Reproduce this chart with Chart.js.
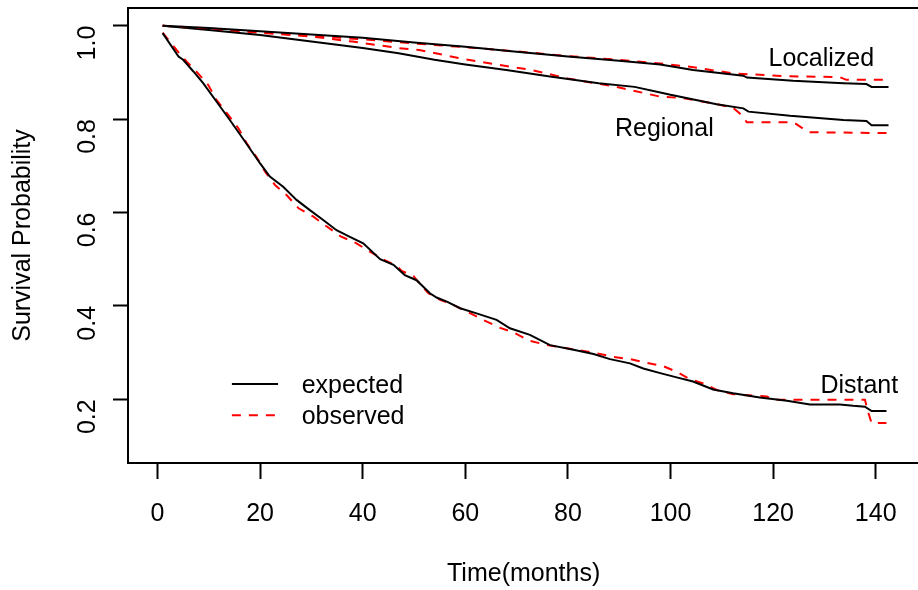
<!DOCTYPE html>
<html>
<head>
<meta charset="UTF-8">
<title>Survival by stage</title>
<script src="https://cdn.jsdelivr.net/npm/chart.js@4.4.0/dist/chart.umd.min.js"></script>
<style>
  body { margin: 0; overflow: hidden; background: #fff; }
</style>
</head>
<body>
<canvas id="myChart" width="930" height="590"></canvas>

<script>
// months / survival
var locExpT = [1, 10, 20, 30, 40, 50, 60, 70, 80, 90, 98, 104.4, 114.2, 114.9, 123.9, 133.7, 138.2, 139.2, 142.5];
var locExpV = [1.0, 0.995, 0.988, 0.981, 0.974, 0.964, 0.955, 0.944, 0.934, 0.925, 0.917, 0.905, 0.893, 0.889, 0.882, 0.877, 0.875, 0.869, 0.869];
var locObsT = [1, 10, 20, 30, 40, 50, 60, 70, 80, 90, 98, 103.8, 112.2, 122, 133, 134.3, 142.5];
var locObsV = [1.0, 0.994, 0.986, 0.978, 0.971, 0.962, 0.954, 0.945, 0.935, 0.927, 0.919, 0.912, 0.898, 0.892, 0.890, 0.884, 0.884];

var regExpT = [1, 10, 20, 25, 30, 40, 47, 54, 60, 68, 76.5, 86, 93, 98, 100, 109, 114.2, 115.2, 123.3, 133.7, 138.2, 139.2, 142.5];
var regExpV = [1.0, 0.991, 0.980, 0.973, 0.966, 0.952, 0.941, 0.927, 0.917, 0.905, 0.891, 0.877, 0.869, 0.857, 0.852, 0.832, 0.823, 0.816, 0.807, 0.798, 0.796, 0.787, 0.787];
var regObsT = [1, 10, 20, 30, 38, 47, 51, 60, 70, 73, 80, 89.5, 98, 102.5, 109, 112.2, 113.5, 114.9, 124, 126.9, 142.5];
var regObsV = [1.0, 0.993, 0.985, 0.977, 0.966, 0.952, 0.948, 0.928, 0.910, 0.905, 0.887, 0.869, 0.848, 0.845, 0.832, 0.824, 0.812, 0.793, 0.793, 0.772, 0.770];

var disExpT = [1, 4.1, 5, 7, 8.9, 12.2, 14.1, 16.1, 20, 21.9, 24.5, 27.1, 29.7, 32.3, 34.9, 37.5, 40.1, 43.4, 46, 48.2, 50.5, 53.1, 54.4, 56.4, 59, 62.2, 66.1, 68.7, 72.6, 76.5, 81.1, 85, 88.2, 92.1, 94.7, 98, 101.2, 104.4, 108.3, 112.2, 117.4, 122.7, 127.2, 133, 135.6, 137.9, 139.2, 142.1];
var disExpV = [0.984, 0.934, 0.927, 0.902, 0.877, 0.827, 0.798, 0.767, 0.705, 0.677, 0.655, 0.627, 0.605, 0.584, 0.562, 0.548, 0.534, 0.500, 0.488, 0.466, 0.455, 0.427, 0.418, 0.409, 0.395, 0.384, 0.370, 0.352, 0.338, 0.316, 0.306, 0.297, 0.286, 0.277, 0.266, 0.256, 0.247, 0.238, 0.221, 0.213, 0.204, 0.197, 0.189, 0.189, 0.186, 0.184, 0.175, 0.175];
var disObsT = [1, 3.7, 5.7, 7.9, 9.9, 11.5, 13.8, 15.8, 17.4, 19.3, 21, 22.9, 25.2, 27.5, 30.4, 33, 35.7, 38.8, 41.4, 44.3, 46.6, 47.6, 49.9, 50.8, 52.8, 55.1, 57.7, 60.3, 63.5, 66.8, 69.4, 72.6, 76.5, 81.7, 85, 88.8, 92.1, 95.4, 98.6, 101.2, 103.8, 106.4, 109, 112.2, 116.1, 118.8, 120, 123.9, 137.9, 138.6, 139.2, 142.1];
var disObsV = [0.985, 0.948, 0.923, 0.898, 0.873, 0.841, 0.809, 0.780, 0.748, 0.719, 0.687, 0.659, 0.637, 0.609, 0.591, 0.570, 0.549, 0.534, 0.516, 0.498, 0.486, 0.475, 0.464, 0.452, 0.427, 0.413, 0.402, 0.388, 0.370, 0.353, 0.343, 0.325, 0.315, 0.306, 0.300, 0.291, 0.286, 0.278, 0.271, 0.259, 0.243, 0.234, 0.220, 0.211, 0.208, 0.206, 0.199, 0.199, 0.199, 0.170, 0.149, 0.149];

var xTicks = [0, 20, 40, 60, 80, 100, 120, 140];
var yTicks = [0.2, 0.4, 0.6, 0.8, 1.0];
</script>

<script>
	var FONT = "'Liberation Sans', Arial, sans-serif";

	function pts(t, v) {
		return t.map(function (x, i) { return {x: x, y: v[i]}; });
	}
	function solid(t, v) {
		return {data: pts(t, v), borderColor: '#000', borderWidth: 2, pointRadius: 0, tension: 0, fill: false};
	}
	function dashed(t, v) {
		return {data: pts(t, v), borderColor: '#ff0000', borderWidth: 2, borderDash: [9, 8], pointRadius: 0, tension: 0, fill: false};
	}
	// no extra room for overhanging tick labels, the frame sits where R puts it
	function noOverhang(s) {
		s.paddingTop = 0; s.paddingBottom = 0; s.paddingLeft = 0; s.paddingRight = 0;
	}

	// curve names + legend, placed in data units like text()/legend() in R
	var curveLabels = [
		{text: 'Localized', x: 129.4, y: 0.933},
		{text: 'Regional', x: 98.8, y: 0.783},
		{text: 'Distant', x: 136.8, y: 0.233}
	];
	var legendRows = [
		{text: 'expected', y: 0.233, color: '#000', dash: []},
		{text: 'observed', y: 0.166, color: '#ff0000', dash: [9, 8]}
	];

	var annotate = {
		id: 'annotate',
		afterDraw: function (chart) {
			var ctx = chart.ctx, xs = chart.scales.x, ys = chart.scales.y, a = chart.chartArea;
			ctx.save();
			ctx.fillStyle = '#000';
			ctx.font = '25px ' + FONT;
			ctx.textBaseline = 'alphabetic';
			ctx.textAlign = 'center';
			curveLabels.forEach(function (l) {
				ctx.fillText(l.text, xs.getPixelForValue(l.x), ys.getPixelForValue(l.y) + 9);
			});
			ctx.lineWidth = 2;
			legendRows.forEach(function (r) {
				var py = ys.getPixelForValue(r.y);
				ctx.strokeStyle = r.color;
				ctx.setLineDash(r.dash);
				ctx.beginPath();
				ctx.moveTo(xs.getPixelForValue(14.5), py);
				ctx.lineTo(xs.getPixelForValue(23.5), py);
				ctx.stroke();
				ctx.textAlign = 'left';
				ctx.fillText(r.text, xs.getPixelForValue(28.1), py + 9);
			});
			// plot frame
			ctx.setLineDash([]);
			ctx.strokeStyle = '#000';
			ctx.lineWidth = 2;
			ctx.strokeRect(a.left, a.top, a.right - a.left, a.bottom - a.top);
			ctx.restore();
		}
	};

	new Chart('myChart', {
		type: 'line',
		data: {
			datasets: [
				solid(locExpT, locExpV), dashed(locObsT, locObsV),
				solid(regExpT, regExpV), dashed(regObsT, regObsV),
				solid(disExpT, disExpV), dashed(disObsT, disObsV)
			]
		},
		options: {
			responsive: false,
			animation: false,
			devicePixelRatio: 1,
			layout: {padding: {left: 0, top: 8, right: 10.7, bottom: 0}},
			plugins: {legend: {display: false}, tooltip: {enabled: false}},
			scales: {
				x: {
					type: 'linear',
					min: -5.75, max: 148.5,
					afterBuildTicks: function (s) { s.ticks = xTicks.map(function (v) { return {value: v}; }); },
					afterFit: function (s) { s.height = 127; noOverhang(s); },
					border: {display: false},
					grid: {drawOnChartArea: false, drawTicks: true, tickLength: 16, tickWidth: 2, tickColor: '#000'},
					ticks: {color: '#000', font: {family: FONT, size: 25}, padding: 20, maxRotation: 0,
						callback: function (v) { return String(v); }},
					title: {display: true, text: 'Time(months)', color: '#000', font: {family: FONT, size: 25}, padding: {top: 0, bottom: 1}}
				},
				y: {
					type: 'linear',
					min: 0.0636, max: 1.0379,
					afterBuildTicks: function (s) { s.ticks = yTicks.map(function (v) { return {value: v}; }); },
					afterFit: function (s) { s.width = 128; noOverhang(s); },
					border: {display: false},
					grid: {drawOnChartArea: false, drawTicks: true, tickLength: 15, tickWidth: 2, tickColor: '#000'},
					ticks: {color: '#000', font: {family: FONT, size: 25}, padding: 25, minRotation: 90, maxRotation: 90,
						callback: function (v) { return v.toFixed(1); }},
					title: {display: true, text: 'Survival Probability', color: '#000', font: {family: FONT, size: 25}, padding: {top: 8, bottom: 0}}
				}
			}
		},
		plugins: [annotate]
	});
</script>
</body>
</html>
